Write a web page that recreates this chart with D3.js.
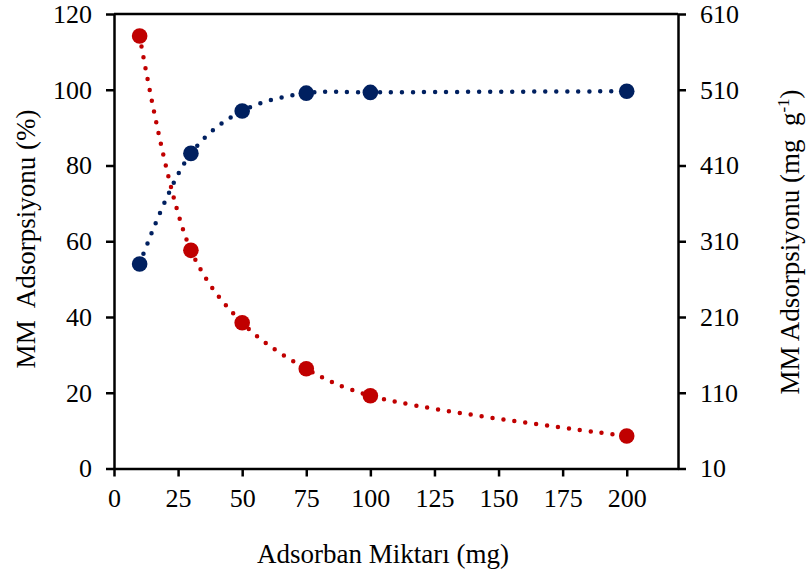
<!DOCTYPE html>
<html>
<head>
<meta charset="utf-8">
<script src="https://cdn.jsdelivr.net/npm/d3@7/dist/d3.min.js"></script>
<style>
  html, body { margin: 0; padding: 0; background: #fff; }
  svg, svg text { font-family: "Liberation Serif", "Times New Roman", serif !important; }
  svg { display: block; }
</style>
</head>
<body>
<svg id="chart" width="807" height="577"></svg>
<script>
// Adsorbent dose (mg)
const doses = [10, 30, 50, 75, 100, 200];
// Removal efficiency (%), left axis
const removalPct = [54.0, 83.2, 94.4, 99.1, 99.3, 99.6];
// Adsorption capacity (mg g-1), right axis
const capacity = [581, 298, 202.5, 141.7, 106.1, 53];

const xTicks = [0, 25, 50, 75, 100, 125, 150, 175, 200];
const leftTicks = [0, 20, 40, 60, 80, 100, 120];
const rightTicks = [10, 110, 210, 310, 410, 510, 610];

const BLUE = "#002060";
const RED = "#C00000";

const svg = d3.select("#chart");
const plotLeft = 114, plotRight = 678, plotTop = 14, plotBottom = 468.5;

const x = d3.scaleLinear().domain([0, 220]).range([plotLeft, plotRight]);
const yL = d3.scaleLinear().domain([0, 120]).range([plotBottom, plotTop]);
const yR = d3.scaleLinear().domain([10, 610]).range([plotBottom, plotTop]);

const tickFont = 26;
const titleFont = 27;

// top frame line
svg.append("line")
  .attr("x1", plotLeft).attr("x2", plotRight)
  .attr("y1", plotTop).attr("y2", plotTop)
  .attr("stroke", "#000").attr("stroke-width", 2.5);

function styleAxis(g) {
  g.attr("font-family", null).attr("font-size", null);
  g.selectAll("path.domain").attr("stroke", "#000").attr("stroke-width", 2.5);
  g.selectAll(".tick line").attr("stroke", "#000").attr("stroke-width", 2.5);
  g.selectAll(".tick text")
    .style("font-family", '"Liberation Serif", "Times New Roman", serif')
    .attr("font-size", tickFont).attr("fill", "#000");
}

const xAxis = svg.append("g")
  .attr("transform", `translate(0,${plotBottom})`)
  .call(d3.axisBottom(x).tickValues(xTicks).tickSize(8).tickSizeOuter(0).tickPadding(12));
styleAxis(xAxis);

const lAxis = svg.append("g")
  .attr("transform", `translate(${plotLeft},0)`)
  .call(d3.axisLeft(yL).tickValues(leftTicks).tickSize(8).tickSizeOuter(0).tickPadding(14));
styleAxis(lAxis);

const rAxis = svg.append("g")
  .attr("transform", `translate(${plotRight},0)`)
  .call(d3.axisRight(yR).tickValues(rightTicks).tickSize(8).tickSizeOuter(0).tickPadding(14));
styleAxis(rAxis);

// smoothed dotted connectors
const lineL = d3.line().x((d, i) => x(doses[i])).y(d => yL(d)).curve(d3.curveCatmullRom.alpha(0.5));
const lineR = d3.line().x((d, i) => x(doses[i])).y(d => yR(d)).curve(d3.curveCatmullRom.alpha(0.5));

svg.append("path").attr("d", lineR(capacity))
  .attr("fill", "none").attr("stroke", RED).attr("stroke-width", 4.5)
  .attr("stroke-linecap", "round").attr("stroke-dasharray", "0 11");
svg.append("path").attr("d", lineL(removalPct))
  .attr("fill", "none").attr("stroke", BLUE).attr("stroke-width", 4.5)
  .attr("stroke-linecap", "round").attr("stroke-dasharray", "0 11");

svg.selectAll("circle.red").data(capacity).join("circle")
  .attr("class", "red")
  .attr("cx", (d, i) => x(doses[i])).attr("cy", d => yR(d))
  .attr("r", 7.8).attr("fill", RED);
svg.selectAll("circle.blue").data(removalPct).join("circle")
  .attr("class", "blue")
  .attr("cx", (d, i) => x(doses[i])).attr("cy", d => yL(d))
  .attr("r", 7.8).attr("fill", BLUE);

// axis titles
svg.append("text")
  .attr("x", 383).attr("y", 563)
  .attr("text-anchor", "middle").attr("font-size", titleFont)
  .text("Adsorban Miktarı (mg)");

svg.append("text")
  .attr("transform", "translate(35,239) rotate(-90)")
  .attr("text-anchor", "middle").attr("font-size", titleFont)
  .attr("xml:space", "preserve")
  .text("MM  Adsorpsiyonu (%)");

const rt = svg.append("text")
  .attr("transform", "translate(799,242) rotate(-90)")
  .attr("text-anchor", "middle").attr("font-size", titleFont)
  .attr("xml:space", "preserve");
rt.append("tspan").text("MM Adsorpsiyonu (mg  g");
rt.append("tspan").attr("dy", -10).attr("font-size", 17).text("-1");
rt.append("tspan").attr("dy", 10).text(")");
</script>
</body>
</html>
